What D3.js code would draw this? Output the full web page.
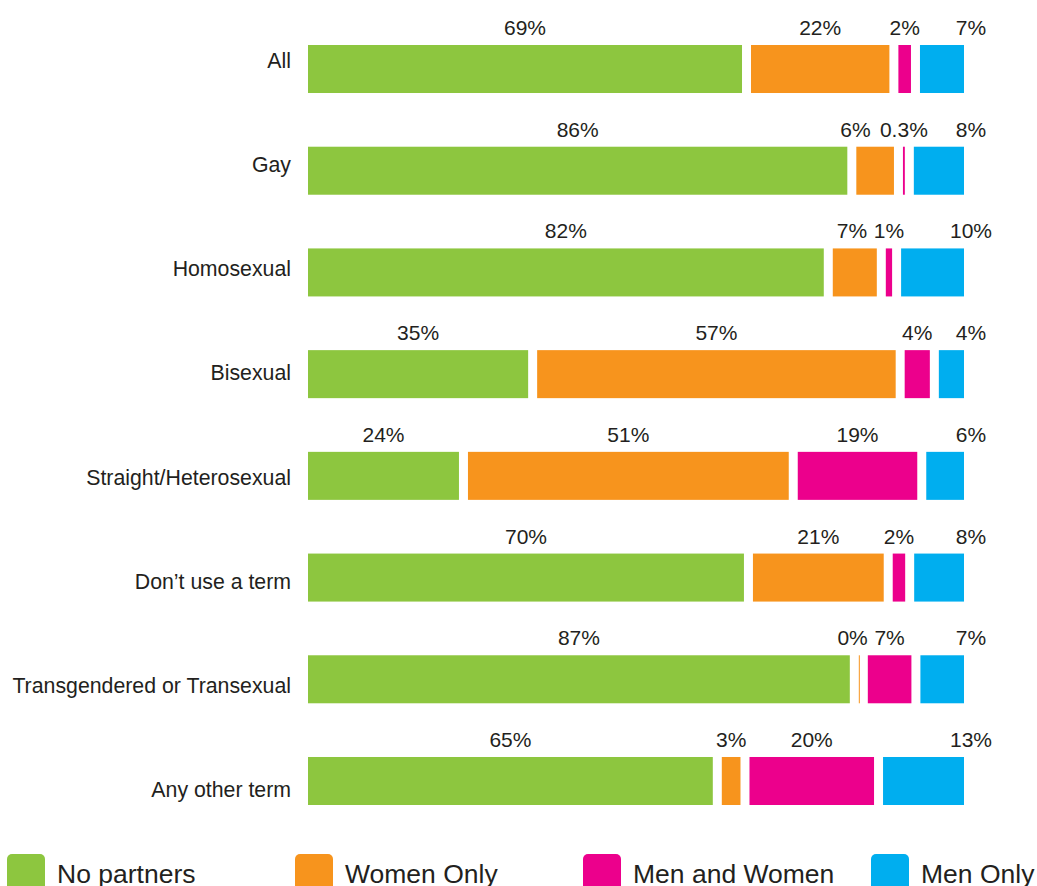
<!DOCTYPE html>
<html>
<head>
<meta charset="utf-8">
<script src="https://cdn.jsdelivr.net/npm/d3@7"></script>
<style>
  body { margin: 0; background: #fff; }
  text { font-family: "Liberation Sans", Arial, sans-serif; fill: #231f20; }
</style>
</head>
<body>
<div id="chart"></div>
<script>
// Categories (rows), top to bottom
const categories = [
    "All", "Gay", "Homosexual", "Bisexual", "Straight/Heterosexual",
    "Don\u2019t use a term", "Transgendered or Transexual", "Any other term"
];

// Series names and values (percent), one value per category
const seriesNames = ["No partners", "Women Only", "Men and Women", "Men Only"];
const noPartners = [69, 86, 82, 35, 24, 70, 87, 65];
const womenOnly = [22, 6, 7, 57, 51, 21, 0, 3];
const menAndWomen = [2, 0.3, 1, 4, 19, 2, 7, 20];
const menOnly = [7, 8, 10, 4, 6, 8, 7, 13];

const colors = ["#8dc63f", "#f7941d", "#ec008c", "#00aeef"];

const width = 1037;
const height = 886;
const margin = { left: 308, right: 73 };
const gap = 9; // white gap between segments

const svg = d3.select("#chart")
    .append("svg")
    .attr("width", width)
    .attr("height", height);

// Build row data from the arrays
const rows = categories.map((c, i) => ({
    category: c,
    values: [noPartners[i], womenOnly[i], menAndWomen[i], menOnly[i]]
}));

const yScale = d3.scaleBand()
    .domain(categories)
    .range([45, 805])
    .paddingInner(0.528)
    .paddingOuter(0);

// category labels drift slightly from the bar centres in the original
const labelY = d3.scalePoint()
    .domain(categories)
    .range([68, 797]);

const barEnd = width - margin.right;
const usable = barEnd - margin.left - gap * (seriesNames.length - 1);

// Category labels
svg.append("g")
    .selectAll("text")
    .data(categories)
    .join("text")
    .attr("x", 291)
    .attr("y", (d) => labelY(d))
    .attr("text-anchor", "end")
    .attr("font-size", "21.3px")
    .text((d) => d);

rows.forEach((row) => {
    const total = d3.sum(row.values);
    const xScale = d3.scaleLinear().domain([0, total]).range([0, usable]);
    const y = yScale(row.category);

    // segments
    let cursor = margin.left;
    const segs = row.values.map((v, j) => {
        const w = Math.max(xScale(v), 1);
        const s = { v: v, j: j, x: cursor, w: w };
        cursor += xScale(v) + gap;
        return s;
    });

    const g = svg.append("g");
    g.selectAll("rect")
        .data(segs)
        .join("rect")
        .attr("x", (d) => d.x)
        .attr("y", y)
        .attr("width", (d) => d.w)
        .attr("height", yScale.bandwidth())
        .attr("fill", (d) => colors[d.j]);

    // value labels: centred on segment, last one just past the bar end
    const labels = segs.map((s) => {
        const text = s.v + "%";
        const cx = s.j === segs.length - 1 ? barEnd + 7 : s.x + s.w / 2;
        return { text: text, cx: cx, w: text.length * 11.5 };
    });
    // push overlapping labels to the left
    for (let k = labels.length - 2; k >= 0; k--) {
        const right = labels[k].cx + labels[k].w / 2;
        const limit = labels[k + 1].cx - labels[k + 1].w / 2 - 14;
        if (right > limit) labels[k].cx -= right - limit;
    }

    g.selectAll("text")
        .data(labels)
        .join("text")
        .attr("x", (d) => d.cx)
        .attr("y", y - 10)
        .attr("text-anchor", "middle")
        .attr("font-size", "21px")
        .text((d) => d.text);
});

// Legend
const legendX = d3.scalePoint()
    .domain(seriesNames)
    .range([7, 871]);

const legend = svg.append("g")
    .selectAll("g")
    .data(seriesNames)
    .join("g")
    .attr("transform", (d) => `translate(${legendX(d)},854)`);

legend.append("rect")
    .attr("width", 38)
    .attr("height", 44)
    .attr("rx", 5)
    .attr("fill", (d, i) => colors[i]);

legend.append("text")
    .attr("x", 50)
    .attr("y", 28.5)
    .attr("font-size", "26.5px")
    .text((d) => d);
</script>
</body>
</html>
